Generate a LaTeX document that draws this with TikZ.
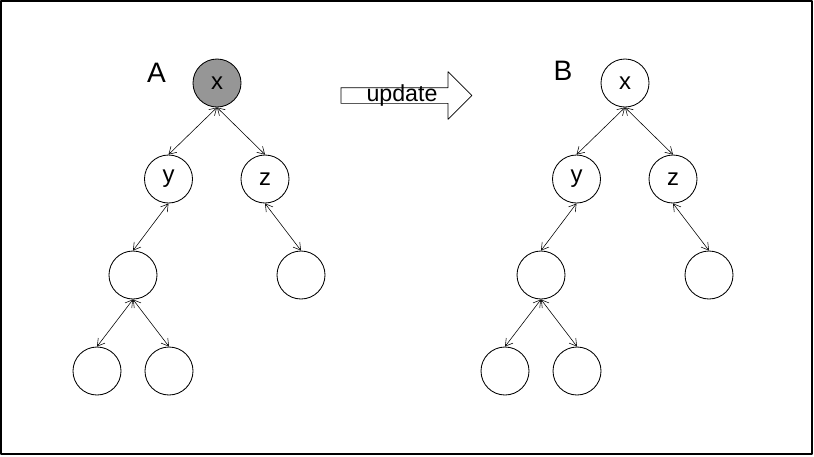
\documentclass[tikz,border=0pt]{standalone}
\usepackage{fontspec}
\setmainfont{Liberation Sans}
\usetikzlibrary{arrows.meta,shapes.arrows}

\definecolor{rootgray}{RGB}{150,150,150}

\begin{document}
\begin{tikzpicture}[x=0.025cm, y=-0.025cm, line join=round,
	vertex/.style={draw, circle, line width=0.6pt, minimum size=1.2cm, inner sep=0pt, font=\fontsize{17}{17}\selectfont},
	treelabel/.style={font=\fontsize{20}{20}\selectfont},
	link/.style={{Straight Barb[length=5pt,width=6pt]}-{Straight Barb[length=5pt,width=6pt]}, line width=0.4pt}]

\useasboundingbox (0,0) rectangle (814,456);
\draw[line width=0.8pt] (1,1) rectangle (812,454);

% tree A
\node (Alabel) at (156.5, 72.5) [treelabel] {A};
\node (Ax) at (217, 83) [vertex, fill=rootgray] {x};
\node (Ay) at (168.5, 179) [vertex] {y};
\node (Az) at (265, 179) [vertex] {z};
\node (Ayc) at (133, 275) [vertex] {};
\node (Azc) at (301, 275) [vertex] {};
\node (Ayl) at (97, 371) [vertex] {};
\node (Ayr) at (169, 371) [vertex] {};

\draw[link] (Ax.south) -- (Ay.north);
\draw[link] (Ax.south) -- (Az.north);
\draw[link] (Ay.south) -- (Ayc.north);
\draw[link] (Az.south) -- (Azc.north);
\draw[link] (Ayc.south) -- (Ayl.north);
\draw[link] (Ayc.south) -- (Ayr.north);

% update arrow
\node (update) at (402.5, 95.5) [draw, single arrow, line width=0.5pt, minimum height=3.275cm, minimum width=1.175cm, inner sep=0.1875cm, single arrow head extend=0.4cm, single arrow tip angle=90] {};
\node (updatetext) at (402, 95) [font=\fontsize{16.5}{16.5}\selectfont] {update};

% tree B
\node (Blabel) at (563, 71) [treelabel] {B};
\node (Bx) at (625, 83) [vertex] {x};
\node (By) at (576.5, 179) [vertex] {y};
\node (Bz) at (673, 179) [vertex] {z};
\node (Byc) at (541, 275) [vertex] {};
\node (Bzc) at (709, 275) [vertex] {};
\node (Byl) at (505, 371) [vertex] {};
\node (Byr) at (577, 371) [vertex] {};

\draw[link] (Bx.south) -- (By.north);
\draw[link] (Bx.south) -- (Bz.north);
\draw[link] (By.south) -- (Byc.north);
\draw[link] (Bz.south) -- (Bzc.north);
\draw[link] (Byc.south) -- (Byl.north);
\draw[link] (Byc.south) -- (Byr.north);

\end{tikzpicture}
\end{document}
